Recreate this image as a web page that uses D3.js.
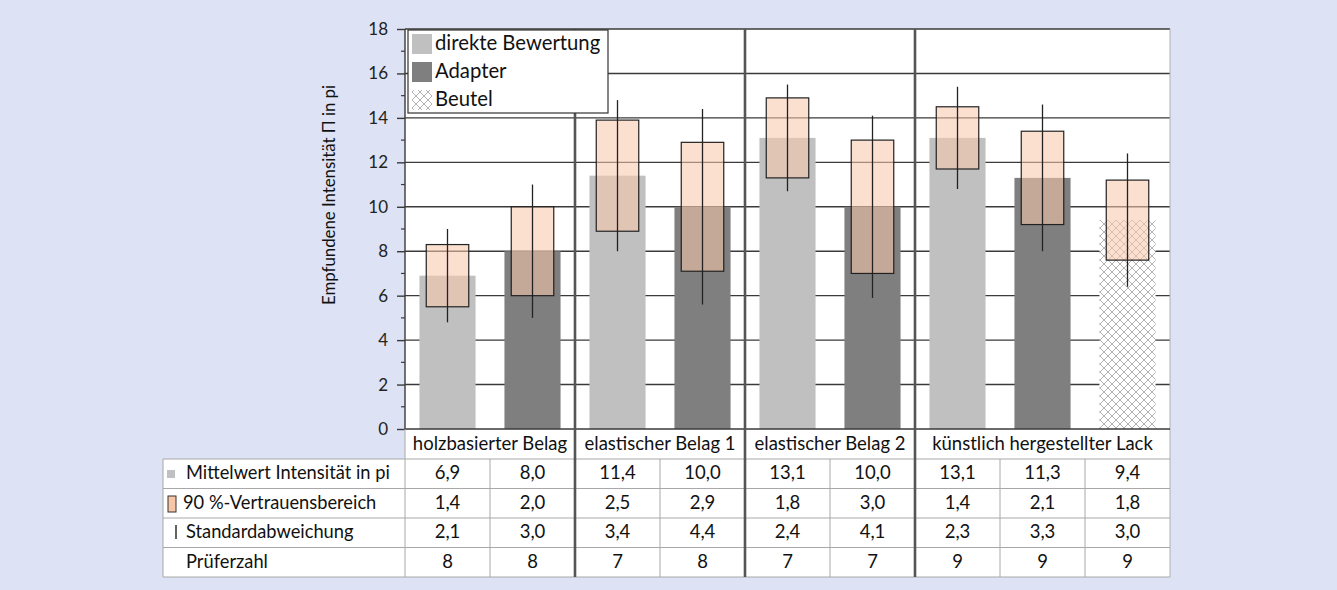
<!DOCTYPE html>
<html><head><meta charset="utf-8">
<script src="https://cdn.jsdelivr.net/npm/d3@7"></script>
<style>
html,body{margin:0;padding:0;background:#dde2f4;}
svg{display:block;font-family:Lato,"Open Sans",sans-serif;}
</style></head>
<body><svg id="c" width="1337" height="590"></svg>
<script>
// ---- data ----
const groups = ["holzbasierter Belag","elastischer Belag 1","elastischer Belag 2","künstlich hergestellter Lack"];
const groupSizes = [2,2,2,3];
const columnType = ["direkt","adapter","direkt","adapter","direkt","adapter","direkt","adapter","beutel"];
const means = [6.9,8.0,11.4,10.0,13.1,10.0,13.1,11.3,9.4];
const confidence = [1.4,2.0,2.5,2.9,1.8,3.0,1.4,2.1,1.8];
const stdDev = [2.1,3.0,3.4,4.4,2.4,4.1,2.3,3.3,3.0];
const testers = [8,8,7,8,7,7,9,9,9];
const yTicks = [0,2,4,6,8,10,12,14,16,18];
const legendLabels = ["direkte Bewertung","Adapter","Beutel"];
const rowLabels = ["Mittelwert Intensität in pi","90 %-Vertrauensbereich","Standardabweichung","Prüferzahl"];
const yLabel = "Empfundene Intensität Π in pi";

const fmt = v => v.toFixed(1).replace(".", ",");
const svg = d3.select("#c");
const L = 405, R = 1170, T = 29, B = 429;
const tableLeft = 163, rowH = 29.5, catRowBottom = 459;

const x = d3.scaleBand().domain(d3.range(means.length)).range([L,R]).paddingInner(0.34).paddingOuter(0.17);
const y = d3.scaleLinear().domain([0,18]).range([B,T]);
const step = x.step();
const colLeft = i => L + i*step;

const defs = svg.append("defs");
const pat = defs.append("pattern").attr("id","hatch").attr("patternUnits","userSpaceOnUse").attr("width",8).attr("height",8);
pat.append("rect").attr("width",8).attr("height",8).attr("fill","#fff");
pat.append("path").attr("d","M0,0L8,8M8,0L0,8M-1,7L1,9M7,-1L9,1M-1,1L1,-1M7,9L9,7").attr("stroke","#b3b3b3").attr("stroke-width",1);

const fillFor = t => t==="direkt" ? "#c0c0c0" : t==="adapter" ? "#7f7f7f" : "url(#hatch)";

// plot background
svg.append("rect").attr("x",L).attr("y",T).attr("width",R-L).attr("height",B-T).attr("fill","#fff");
// table background
svg.append("rect").attr("x",L).attr("y",B).attr("width",R-L).attr("height",catRowBottom-B).attr("fill","#fff");
svg.append("rect").attr("x",tableLeft).attr("y",catRowBottom).attr("width",R-tableLeft).attr("height",rowH*4).attr("fill","#fff");

// gridlines
svg.append("g").selectAll("line").data(yTicks.filter(d=>d>0)).join("line")
  .attr("x1",L).attr("x2",R).attr("y1",d=>y(d)).attr("y2",d=>y(d))
  .attr("stroke","#3a3a3a").attr("stroke-width",1.4);

// y axis
const yAxis = d3.axisLeft(y).tickValues(yTicks).tickSize(8).tickPadding(9).tickFormat(d3.format("d"));
const ga = svg.append("g").attr("transform",`translate(${L},0)`).call(yAxis);
ga.select(".domain").remove();
ga.selectAll(".tick line").attr("stroke","#3a3a3a").attr("stroke-width",1.4);
ga.selectAll(".tick text").attr("font-size",17).attr("fill","#222").attr("font-family","Lato");
svg.append("g").selectAll("line").data(d3.range(1,18,2)).join("line")
  .attr("x1",L-4).attr("x2",L).attr("y1",d=>y(d)).attr("y2",d=>y(d)).attr("stroke","#3a3a3a").attr("stroke-width",1.2);
svg.append("line").attr("x1",L).attr("x2",L).attr("y1",T).attr("y2",B).attr("stroke","#3a3a3a").attr("stroke-width",1.4);
svg.append("line").attr("x1",R).attr("x2",R).attr("y1",T).attr("y2",B+30+rowH*4).attr("stroke","#b0b0b0").attr("stroke-width",1);

// bars
svg.append("g").selectAll("rect").data(means).join("rect")
  .attr("x",(d,i)=>x(i)).attr("width",x.bandwidth())
  .attr("y",d=>y(d)).attr("height",d=>B-y(d)).attr("fill",(d,i)=>fillFor(columnType[i]));

// confidence boxes
const boxW = step*0.5;
svg.append("g").selectAll("rect").data(means).join("rect")
  .attr("x",(d,i)=>x(i)+x.bandwidth()/2-boxW/2).attr("width",boxW)
  .attr("y",(d,i)=>y(d+confidence[i])).attr("height",(d,i)=>y(d-confidence[i])-y(d+confidence[i]))
  .attr("fill","rgb(248,201,173)").attr("fill-opacity",0.57).attr("stroke","#222").attr("stroke-width",1.2);

// std dev lines
svg.append("g").selectAll("line").data(means).join("line")
  .attr("x1",(d,i)=>x(i)+x.bandwidth()/2).attr("x2",(d,i)=>x(i)+x.bandwidth()/2)
  .attr("y1",(d,i)=>y(d+stdDev[i])).attr("y2",(d,i)=>y(d-stdDev[i]))
  .attr("stroke","#222").attr("stroke-width",1.3);

// x axis line
svg.append("line").attr("x1",L).attr("x2",R).attr("y1",B).attr("y2",B).attr("stroke","#3a3a3a").attr("stroke-width",1.4);

// table grid
const tableBottom = catRowBottom + rowH*4;
const tg = svg.append("g").attr("stroke","#a8a8a8").attr("stroke-width",1);
d3.range(5).forEach(r=>{
  tg.append("line").attr("x1",tableLeft).attr("x2",R).attr("y1",catRowBottom+r*rowH).attr("y2",catRowBottom+r*rowH);
});
tg.append("line").attr("x1",tableLeft).attr("x2",tableLeft).attr("y1",catRowBottom).attr("y2",tableBottom);
tg.append("line").attr("x1",L).attr("x2",L).attr("y1",B).attr("y2",tableBottom);
d3.range(1,means.length).forEach(i=>{
  tg.append("line").attr("x1",colLeft(i)).attr("x2",colLeft(i)).attr("y1",catRowBottom).attr("y2",tableBottom);
});

// group separators
let acc = 0;
const seps = [];
groupSizes.forEach((n,gi)=>{ if(gi>0) seps.push(acc); acc+=n; });
svg.append("g").selectAll("line").data(seps).join("line")
  .attr("x1",d=>colLeft(d)).attr("x2",d=>colLeft(d)).attr("y1",T).attr("y2",tableBottom)
  .attr("stroke","#555").attr("stroke-width",2.6);

// group labels
acc = 0;
groupSizes.forEach((n,gi)=>{
  const cx = colLeft(acc) + n*step/2;
  svg.append("text").attr("x",cx).attr("y",(B+catRowBottom)/2+1).attr("text-anchor","middle")
    .attr("dominant-baseline","middle").attr("font-size",18.5).attr("fill","#111").text(groups[gi]);
  acc += n;
});

// table values
const rows = [means.map(fmt), confidence.map(fmt), stdDev.map(fmt), testers.map(String)];
rows.forEach((vals,r)=>{
  const cy = catRowBottom + r*rowH + rowH/2 + 1;
  svg.append("g").selectAll("text").data(vals).join("text")
    .attr("x",(d,i)=>colLeft(i)+step/2).attr("y",cy).attr("text-anchor","middle")
    .attr("dominant-baseline","middle").attr("font-size",18.5).attr("fill","#111").text(d=>d);
  svg.append("text").attr("x", r===1 ? 183 : 186).attr("y",cy).attr("dominant-baseline","middle")
    .attr("font-size",18.3).attr("fill","#111").text(rowLabels[r]);
});
// row label symbols
svg.append("rect").attr("x",167).attr("y",470).attr("width",8).attr("height",8).attr("fill","#c0c0c0");
svg.append("rect").attr("x",168).attr("y",496).attr("width",8).attr("height",16).attr("fill","#f8c6a6").attr("stroke","#333").attr("stroke-width",1);
svg.append("line").attr("x1",176).attr("x2",176).attr("y1",525).attr("y2",539).attr("stroke","#222").attr("stroke-width",1.4);

// legend
const lg = svg.append("g");
lg.append("rect").attr("x",408).attr("y",30).attr("width",200).attr("height",83).attr("fill","#fff").attr("stroke","#333").attr("stroke-width",1.2);
const legFill = ["#c0c0c0","#7f7f7f","url(#hatch)"];
legendLabels.forEach((t,i)=>{
  const cy = 44 + i*28;
  lg.append("rect").attr("x",412).attr("y",cy-10).attr("width",20).attr("height",20).attr("fill",legFill[i]);
  lg.append("text").attr("x",435).attr("y",cy+1).attr("dominant-baseline","middle").attr("font-size",20.3).attr("fill","#111").text(t);
});

// y label
svg.append("text").attr("transform","translate(331,195) rotate(-90)").attr("text-anchor","middle")
  .attr("dominant-baseline","middle").attr("font-size",16.8).attr("fill","#111").text(yLabel);
</script></body></html>
